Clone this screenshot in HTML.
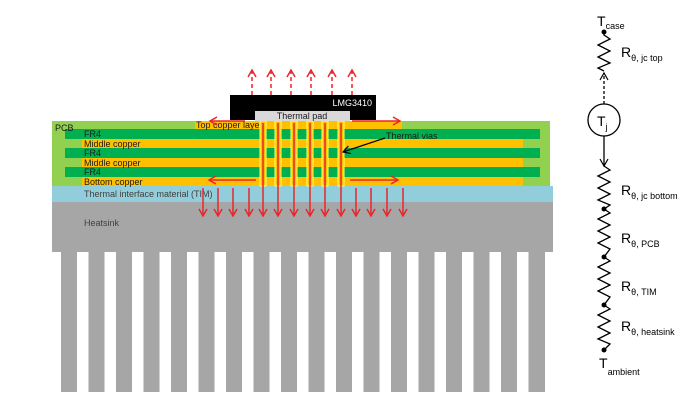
<!DOCTYPE html>
<html><head><meta charset="utf-8"><style>
html,body{margin:0;padding:0;background:#fff}
svg{display:block;font-family:"Liberation Sans",sans-serif}
</style></head><body>
<svg width="698" height="407" viewBox="0 0 698 407" xmlns="http://www.w3.org/2000/svg">
<defs>
<marker id="ah" markerWidth="10" markerHeight="10" refX="8" refY="5" orient="auto" markerUnits="userSpaceOnUse"><path d="M1,1 L8,5 L1,9" fill="none" stroke="#e8262b" stroke-width="1.5"/></marker>
<marker id="ak" markerWidth="10" markerHeight="10" refX="8" refY="5" orient="auto" markerUnits="userSpaceOnUse"><path d="M1,1 L8,5 L1,9" fill="none" stroke="#000" stroke-width="1.2"/></marker>
</defs>
<rect x="52" y="202" width="501" height="50" fill="#a6a6a6"/>
<g fill="#a6a6a6">
<rect x="61" y="250" width="16" height="142"/><rect x="88.5" y="250" width="16" height="142"/><rect x="116" y="250" width="16" height="142"/><rect x="143.5" y="250" width="16" height="142"/><rect x="171" y="250" width="16" height="142"/><rect x="198.5" y="250" width="16" height="142"/><rect x="226" y="250" width="16" height="142"/><rect x="253.5" y="250" width="16" height="142"/><rect x="281" y="250" width="16" height="142"/><rect x="308.5" y="250" width="16" height="142"/><rect x="336" y="250" width="16" height="142"/><rect x="363.5" y="250" width="16" height="142"/><rect x="391" y="250" width="16" height="142"/><rect x="418.5" y="250" width="16" height="142"/><rect x="446" y="250" width="16" height="142"/><rect x="473.5" y="250" width="16" height="142"/><rect x="501" y="250" width="16" height="142"/><rect x="528.5" y="250" width="16.5" height="142"/>
</g>
<text x="84" y="226" font-size="9" fill="#404040">Heatsink</text>
<rect x="52" y="186" width="501" height="16" fill="#92cddc"/>
<text x="84" y="197" font-size="9" fill="#404040">Thermal interface material (TIM)</text>
<rect x="52" y="121" width="498" height="65" fill="#92d050"/>
<rect x="195" y="121" width="207" height="8" fill="#ffc000"/>
<rect x="65" y="129" width="475" height="10" fill="#00b050"/>
<rect x="82" y="139" width="441" height="9" fill="#ffc000"/>
<rect x="65" y="148" width="475" height="10" fill="#00b050"/>
<rect x="82" y="158" width="441" height="9" fill="#ffc000"/>
<rect x="65" y="167" width="475" height="10" fill="#00b050"/>
<rect x="82" y="177" width="441" height="9" fill="#ffc000"/>
<g font-size="9" fill="#1a1a1a">
<text x="55" y="131">PCB</text>
<text x="84" y="137">FR4</text>
<text x="84" y="147">Middle copper</text>
<text x="84" y="156">FR4</text>
<text x="84" y="166">Middle copper</text>
<text x="84" y="175">FR4</text>
<text x="84" y="185">Bottom copper</text>
<text x="196" y="128">Top copper laye</text>
</g>
<g fill="#ffc000" stroke="#ffff66" stroke-width="1">
<rect x="260" y="121" width="6" height="65"/><rect x="275" y="121" width="6" height="65"/><rect x="291" y="121" width="6" height="65"/><rect x="307" y="121" width="6" height="65"/><rect x="322" y="121" width="6" height="65"/><rect x="338" y="121" width="6" height="65"/>
</g>
<rect x="230" y="95" width="146" height="25" fill="#000"/>
<text x="372" y="106" font-size="9" fill="#fff" text-anchor="end">LMG3410</text>
<rect x="255" y="111" width="95" height="10" fill="#d9d9d9"/>
<text x="302" y="119" font-size="9" fill="#1a1a1a" text-anchor="middle">Thermal pad</text>
<g stroke="#e8262b" stroke-width="1.5" stroke-dasharray="4,3" marker-end="url(#ah)">
<line x1="252" y1="95" x2="252" y2="70"/><line x1="271" y1="95" x2="271" y2="70"/><line x1="291" y1="95" x2="291" y2="70"/><line x1="311" y1="95" x2="311" y2="70"/><line x1="332" y1="95" x2="332" y2="70"/><line x1="352" y1="95" x2="352" y2="70"/>
</g>
<g stroke="#e8262b" stroke-width="1.5" marker-end="url(#ah)">
<line x1="263" y1="123" x2="263" y2="216"/><line x1="278" y1="123" x2="278" y2="216"/><line x1="294" y1="123" x2="294" y2="216"/><line x1="310" y1="123" x2="310" y2="216"/><line x1="325" y1="123" x2="325" y2="216"/><line x1="341" y1="123" x2="341" y2="216"/>
<line x1="203" y1="188" x2="203" y2="216"/><line x1="218" y1="188" x2="218" y2="216"/><line x1="233" y1="188" x2="233" y2="216"/><line x1="249" y1="188" x2="249" y2="216"/>
<line x1="356" y1="188" x2="356" y2="216"/><line x1="371" y1="188" x2="371" y2="216"/><line x1="387" y1="188" x2="387" y2="216"/><line x1="403" y1="188" x2="403" y2="216"/>
<line x1="245" y1="121" x2="210" y2="121"/><line x1="352" y1="121" x2="400" y2="121"/>
<line x1="256" y1="180" x2="209" y2="180"/><line x1="350" y1="180" x2="398" y2="180"/>
</g>
<text x="386" y="139" font-size="9" fill="#1a1a1a">Thermal vias</text>
<line x1="385" y1="138" x2="343" y2="152" stroke="#000" stroke-width="1.2" marker-end="url(#ak)"/>
<g stroke="#000" stroke-width="1.3" fill="none">
<polyline points="604,32 604,35 610,39 598,45 610,51 598,57 610,63 598,68 604,71"/>
<line x1="604" y1="104" x2="604" y2="73" stroke-dasharray="3,2" marker-end="url(#ak)"/>
<circle cx="604" cy="120" r="16"/>
<line x1="604" y1="136" x2="604" y2="166" marker-end="url(#ak)"/>
<polyline points="604,166 610,170 598,176 610,182 598,188 610,194 598,200 610,205 604,209 610,213 598,219 610,225 598,231 610,237 598,243 610,249 604,257 610,261 598,267 610,273 598,279 610,285 598,291 610,297 604,305 610,309 598,315 610,321 598,327 610,333 598,339 610,344 604,350"/>
</g>
<g fill="#000"><circle cx="604" cy="32" r="2.5"/><circle cx="604" cy="209" r="2.5"/><circle cx="604" cy="257" r="2.5"/><circle cx="604" cy="305" r="2.5"/><circle cx="604" cy="350" r="2.5"/></g>
<g fill="#000" font-size="14">
<text x="597" y="26">T<tspan font-size="9" dy="3">case</tspan></text>
<text x="597" y="126">T<tspan font-size="9" dy="4">j</tspan></text>
<text x="621" y="57">R<tspan font-size="9" dy="4">θ, jc top</tspan></text>
<text x="621" y="195">R<tspan font-size="9" dy="4">θ, jc bottom</tspan></text>
<text x="621" y="243">R<tspan font-size="9" dy="4">θ, PCB</tspan></text>
<text x="621" y="291">R<tspan font-size="9" dy="4">θ, TIM</tspan></text>
<text x="621" y="331">R<tspan font-size="9" dy="4">θ, heatsink</tspan></text>
<text x="599" y="368">T<tspan font-size="9" dy="7">ambient</tspan></text>
</g>
</svg>
</body></html>
